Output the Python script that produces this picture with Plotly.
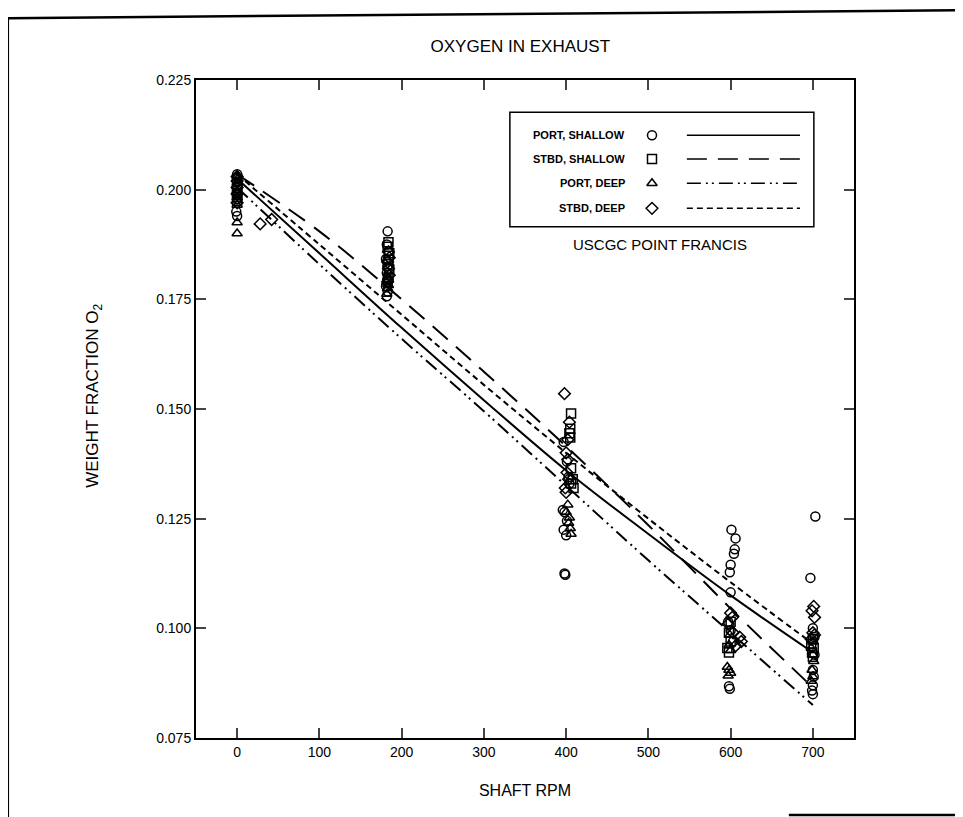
import plotly.graph_objects as go

# fitted curves
curve_rpm = [0, 100, 200, 300, 400, 500, 600, 700]
fit_port_shallow = [0.2025, 0.1855, 0.1685, 0.1520, 0.1360, 0.1215, 0.1075, 0.0945]
fit_stbd_shallow = [0.2035, 0.1905, 0.1750, 0.1585, 0.1415, 0.1235, 0.1045, 0.0865]
fit_port_deep = [0.2005, 0.1830, 0.1660, 0.1495, 0.1325, 0.1155, 0.0990, 0.0825]
fit_stbd_deep = [0.2035, 0.1875, 0.1715, 0.1555, 0.1400, 0.1250, 0.1105, 0.0965]

# measured points
port_shallow_rpm = [0, 0, 0, 0, 0, 0, 0, -1, 0,
                    183, 182, 184, 181, 183, 182, 184, 181, 183, 182,
                    397, 401, 403, 404, 396, 398, 401, 397, 400, 398, 399,
                    601, 606, 605, 604, 600, 599, 600, 597, 600, 603, 598, 599,
                    703, 697, 700, 702, 702, 700, 701, 700, 699, 700]
port_shallow_o2 = [0.2035, 0.2028, 0.2018, 0.2008, 0.1998, 0.1988, 0.1978, 0.1950, 0.1940,
                   0.1905, 0.1875, 0.1860, 0.1842, 0.1825, 0.1810, 0.1795, 0.1780, 0.1768, 0.1757,
                   0.1425, 0.1380, 0.1345, 0.1330, 0.1270, 0.1265, 0.1245, 0.1225, 0.1212, 0.1125, 0.1122,
                   0.1225, 0.1205, 0.1180, 0.1170, 0.1145, 0.1128, 0.1082, 0.1015, 0.0995, 0.0970, 0.0868, 0.0862,
                   0.1255, 0.1115, 0.1000, 0.0980, 0.0940, 0.0905, 0.0890, 0.0870, 0.0858, 0.0850]

stbd_shallow_rpm = [0, 0, 0, 0, 0, 0,
                    184, 183, 185, 184, 183, 185, 184, 183,
                    406, 405, 404, 405, 406, 408, 406, 409,
                    600, 598, 600, 596, 598,
                    700, 698, 701, 699, 700]
stbd_shallow_o2 = [0.2025, 0.2012, 0.2000, 0.1992, 0.1983, 0.1975,
                   0.1880, 0.1870, 0.1855, 0.1840, 0.1830, 0.1818, 0.1800, 0.1790,
                   0.1490, 0.1455, 0.1445, 0.1435, 0.1365, 0.1340, 0.1330, 0.1320,
                   0.1015, 0.0990, 0.0970, 0.0955, 0.0945,
                   0.0975, 0.0965, 0.0955, 0.0945, 0.0935]

port_deep_rpm = [0, 0, 0, 0, 0, 0, 0,
                 183, 182, 184, 183, 182,
                 402, 400, 404, 403, 405, 406,
                 599, 598, 600, 596, 598, 600, 597,
                 700, 698, 700, 701, 699, 700, 698]
port_deep_o2 = [0.2030, 0.2015, 0.1998, 0.1982, 0.1965, 0.1925, 0.1900,
                0.1800, 0.1790, 0.1782, 0.1775, 0.1762,
                0.1282, 0.1265, 0.1252, 0.1240, 0.1228, 0.1215,
                0.0985, 0.0962, 0.0950, 0.0912, 0.0905, 0.0898, 0.0892,
                0.0970, 0.0955, 0.0940, 0.0925, 0.0905, 0.0890, 0.0880]

stbd_deep_rpm = [0, 0, 0, 0, 0, 28, 42,
                 184, 185, 183, 184, 185, 183,
                 398, 404, 402, 400, 402, 401, 403, 399, 400,
                 600, 602, 597, 603, 611, 613, 606,
                 701, 699, 702, 700, 702, 698]
stbd_deep_o2 = [0.2030, 0.2020, 0.2005, 0.1990, 0.1970, 0.1922, 0.1932,
                0.1858, 0.1845, 0.1835, 0.1820, 0.1805, 0.1790,
                0.1535, 0.1470, 0.1430, 0.1400, 0.1385, 0.1355, 0.1340, 0.1320, 0.1310,
                0.1035, 0.1025, 0.1010, 0.0990, 0.0980, 0.0970, 0.0960,
                0.1050, 0.1040, 0.1025, 0.0990, 0.0985, 0.0975]

series_names = ['PORT, SHALLOW', 'STBD, SHALLOW', 'PORT, DEEP', 'STBD, DEEP']
x_ticks = [0, 100, 200, 300, 400, 500, 600, 700]
y_ticks = [0.075, 0.100, 0.125, 0.150, 0.175, 0.200, 0.225]

FONT = 'Liberation Sans Narrow, Arial Narrow, Liberation Sans, Arial, sans-serif'
symbols = ['circle-open', 'square-open', 'triangle-up-open', 'diamond-open']
dashes = ['solid', '20px,11px', '14px,5px,2px,4px,2px,5px', '6px,4px']

fig = go.Figure()

fits = [fit_port_shallow, fit_stbd_shallow, fit_port_deep, fit_stbd_deep]
for fit, dash in zip(fits, dashes):
    fig.add_trace(go.Scatter(x=curve_rpm, y=fit, mode='lines', line_shape='spline',
                             line=dict(color='black', width=2, dash=dash),
                             showlegend=False, hoverinfo='skip'))

points = [(port_shallow_rpm, port_shallow_o2), (stbd_shallow_rpm, stbd_shallow_o2),
          (port_deep_rpm, port_deep_o2), (stbd_deep_rpm, stbd_deep_o2)]
for (xs, ys), sym, name in zip(points, symbols, series_names):
    fig.add_trace(go.Scatter(x=xs, y=ys, mode='markers', name=name,
                             marker=dict(symbol=sym, size=9, color='black',
                                         line=dict(color='black', width=1.5)),
                             showlegend=False))

# hand-made legend box, in paper-like coordinates on an overlay axis
row_y = [0.916, 0.880, 0.843, 0.805]
fig.add_trace(go.Scatter(x=[0.693] * 4, y=row_y, mode='markers', xaxis='x2', yaxis='y2',
                         marker=dict(symbol=symbols, size=9, color='black',
                                     line=dict(color='black', width=1.5)),
                         showlegend=False, hoverinfo='skip'))
for yy, dash in zip(row_y, dashes):
    fig.add_trace(go.Scatter(x=[0.746, 0.918], y=[yy, yy], mode='lines', xaxis='x2', yaxis='y2',
                             line=dict(color='black', width=1.5, dash=dash),
                             showlegend=False, hoverinfo='skip'))
for yy, name in zip(row_y, series_names):
    fig.add_annotation(x=0.655, y=yy, xref='paper', yref='paper', text='<b>' + name + '</b>',
                       showarrow=False, xanchor='right', yanchor='middle',
                       font=dict(family=FONT, size=11, color='black'))
fig.add_shape(type='rect', xref='paper', yref='paper', x0=0.477, x1=0.939, y0=0.777, y1=0.951,
              line=dict(color='black', width=1.5))
fig.add_annotation(x=0.705, y=0.750, xref='paper', yref='paper', text='USCGC POINT FRANCIS',
                   showarrow=False, xanchor='center', yanchor='middle',
                   font=dict(family=FONT, size=15, color='black'))

# page frame (top, left and a stub at the bottom right)
frame = [(-0.286, 1.094, 1.170, 1.106), (-0.286, 1.094, -0.286, -0.13),
         (0.901, -0.117, 1.17, -0.117)]
for x0, y0, x1, y1 in frame:
    fig.add_shape(type='line', xref='paper', yref='paper', x0=x0, y0=y0, x1=x1, y1=y1,
                  line=dict(color='black', width=2.5))

fig.add_annotation(x=-0.155, y=0.52, xref='paper', yref='paper', textangle=-90,
                   text='WEIGHT FRACTION O<sub>2</sub>', showarrow=False,
                   xanchor='center', yanchor='middle',
                   font=dict(family=FONT, size=17, color='black'))

# the page body adds an 8px offset, so the margins are shifted to compensate
fig.update_layout(
    width=963, height=817,
    margin=dict(l=188, r=117, t=72, b=87),
    paper_bgcolor='white', plot_bgcolor='white',
    font=dict(family=FONT, size=14, color='black'),
    title=dict(text='OXYGEN IN EXHAUST', x=0.532, xanchor='center', y=0.953, yanchor='middle',
               font=dict(family=FONT, size=17, color='black')),
    xaxis=dict(range=[-50, 750], tickvals=x_ticks, ticks='inside', ticklen=10, tickwidth=1.5,
               showline=True, linecolor='black', linewidth=2, mirror='ticks', showgrid=False,
               zeroline=False, tickfont=dict(size=14),
               title=dict(text='SHAFT RPM', font=dict(size=16), standoff=26)),
    yaxis=dict(range=[0.075, 0.225], tickvals=y_ticks, tickformat='.3f', ticks='inside',
               ticklen=10, tickwidth=1.5, showline=True, linecolor='black', linewidth=2,
               mirror='ticks', showgrid=False, zeroline=False, tickfont=dict(size=14)),
    xaxis2=dict(range=[0, 1], overlaying='x', visible=False),
    yaxis2=dict(range=[0, 1], overlaying='y', visible=False),
)

fig.write_html("out.html")
